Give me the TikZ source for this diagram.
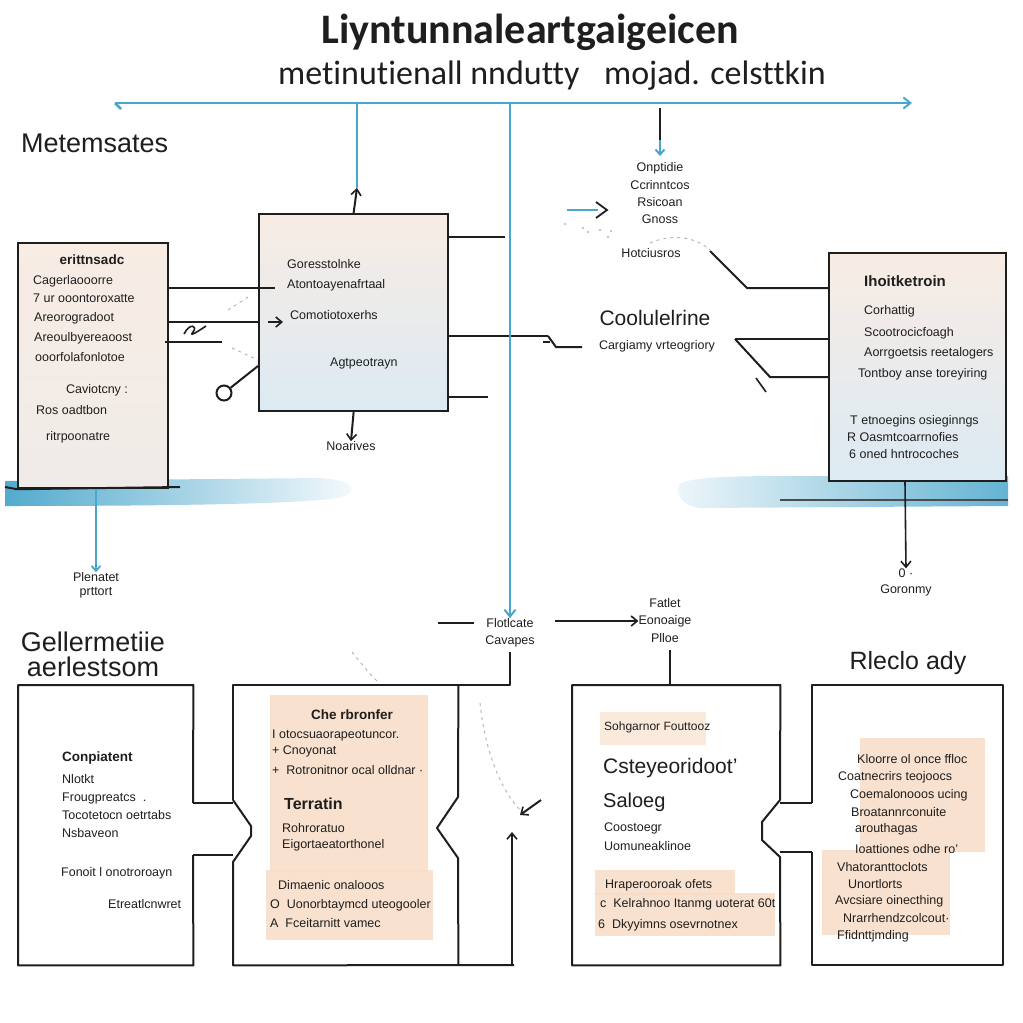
\documentclass[tikz,border=0pt]{standalone}
\usepackage{fontspec}
\setmainfont{Liberation Sans}
\newfontfamily\titlefont[Ligatures=NoCommon]{Carlito}
\usetikzlibrary{arrows.meta}
\definecolor{wblue}{HTML}{4AA6CB}
\definecolor{peach}{HTML}{F7DCC6}
\definecolor{boxpeach}{HTML}{F8ECE4}
\definecolor{boxblue}{HTML}{DCEAF3}
\definecolor{ink}{HTML}{1E1E1E}
\begin{document}
\begin{tikzpicture}[x=1pt,y=-1pt,
  ln/.style={draw=ink,line width=2pt},
  bl/.style={draw=wblue,line width=2.6pt},
  tip/.style={-{Straight Barb[length=6pt,width=10pt,line width=1.6pt]}},
  bbox/.style={draw=ink,line width=2.2pt,anchor=north west,inner sep=0pt},
  tx/.style={font=\fontsize{12.5}{14}\selectfont,inner sep=0pt,text=ink},
  tw/.style={tx,anchor=west},
  tb/.style={tx,font=\fontsize{13.5}{15}\selectfont\bfseries},
  big/.style={inner sep=0pt,text=ink,font=\fontsize{27}{30}\selectfont},
  gd/.style={draw=gray!60,line width=0.9pt,dash pattern=on 3pt off 4pt},
  patch/.style={fill=peach,draw=none,opacity=0.85}
]
\useasboundingbox[fill=white] (0,0) rectangle (1023,1023);

% title
\node[inner sep=0pt,font=\titlefont\fontsize{42}{46}\selectfont\bfseries,text=ink] (title) at (530,32) {Liyntunnalеartgaigeicen};
\node[inner sep=0pt,font=\titlefont\fontsize{34}{38}\selectfont,text=ink] (subt) at (552,76) {metinutienall nndutty\enspace\ mojad. celsttkin};

% blue main bus
\coordinate (busL) at (115,103);
\coordinate (busR) at (912,103);
\draw[bl,-{Straight Barb[length=7pt,width=11pt,line width=2pt]}] (busL) -- (busR);
\draw[bl] (busL) -- ++(6,6);

\node[big,anchor=west] (meta) at (21,143) {Metemsates};

% watercolor strips
\shade[left color=wblue!95,right color=wblue!5] (5,481) -- (320,478) .. controls (350,480) and (360,488) .. (345,496) .. controls (330,503) and (200,506) .. (5,506) -- cycle;
\shade[left color=wblue!10,right color=wblue!85] (680,484) .. controls (690,476) and (750,476) .. (800,476) -- (1008,476) -- (1008,506) -- (700,508) .. controls (680,505) and (675,492) .. (680,484) -- cycle;

% upper-left box
\node[bbox,shade,top color=boxpeach,bottom color=boxpeach!70!boxblue,minimum width=150pt,minimum height=245pt] (lb) at (17,242) {};
\draw[ln] (5,487) -- (lb.south west);
\draw[ln] (lb.south west) -- (180,487);
\node[tb] (lb0) at (92,260) {erittnsadc};
\node[tw] (lb1) at (33,281) {Cagerlaooorre};
\node[tw] (lb2) at (33,298) {7 ur ooontoroxatte};
\node[tw] (lb3) at (34,318) {Areorogradoot};
\node[tw] (lb4) at (34,338) {Areoulbyereaoost};
\node[tw] (lb5) at (35,357) {ooorfolafonlotoe};
\node[tx] (lb6) at (97,390) {Caviotcny :};
\node[tw] (lb7) at (36,410) {Ros oadtbon};
\node[tw] (lb8) at (46,437) {ritrpoonatre};

% middle box
\node[bbox,shade,top color=boxpeach,bottom color=boxblue,minimum width=189pt,minimum height=197pt] (mb) at (258,213) {};
\node[tw] (mb1) at (287,264) {Goresstolnke};
\node[tw] (mb2) at (287,285) {Atontoayenafrtaal};
\node[tw] (mb3) at (290,315) {Comotiotoxerhs};
\node[tw] (mb4) at (330,363) {Agtpeotrayn};

% links left box -> middle box
\draw[ln] (lb.east |- 0,288) -- (275,288);
\draw[ln] (lb.east |- 0,322) -- (mb.west |- 0,322);
\draw[ln,tip] (268,322) -- (283,322);
\draw[ln] (165,342) -- (222,342);
\draw[ln,line width=1.6pt] (184,334) .. controls (190,322) and (198,326) .. (193,332) .. controls (188,338) and (200,330) .. (206,326);
\node[circle,draw=ink,line width=2pt,minimum size=15pt,inner sep=0pt] (circ) at (224,393) {};
\draw[ln] (circ) -- (mb.west |- 0,366);
\draw[gd] (228,310) -- (248,297);
\draw[gd] (232,348) -- (258,360);

% up arrow from middle box to bus
\coordinate (mtop) at (357,188);
\draw[bl] (busL -| mtop) -- (mtop);
\draw[ln,tip] (mb.north |- 0,213) -- (mtop);

% middle box right stubs
\draw[ln] (mb.east |- 0,237) -- (505,237);
\draw[ln] (mb.east |- 0,336) -- (548,336);
\draw[ln] (mb.east |- 0,397) -- (488,397);

% below middle box
\node[tx] (noar) at (351,446) {Noarives};
\draw[ln,tip] (mb.south) -- (noar.north);

% central blue arrow
\node[tx] (flot) at (510,623) {Flotlcate};
\node[tx] (cava) at (510,641) {Cavapes};
\draw[bl,-{Straight Barb[length=7pt,width=11pt,line width=2pt]}] (510,103) -- (flot.north);
\coordinate (dashL) at (438,623);
\draw[ln] (dashL) -- (474,623);
\node[tx] (fat1) at (665,603) {Fatlet};
\node[tx] (fat2) at (665,621) {Eonoaige};
\node[tx] (fat3) at (665,638) {Plloe};
\draw[ln,tip,line width=1.6pt] (555,621) -- (fat2.west);

% centre-right cluster
\coordinate (vtop) at (660,108);
\draw[ln,line width=1.6pt] (vtop) -- (660,145);
\draw[bl,-{Straight Barb[length=5pt,width=9pt,line width=2pt]}] (660,140) -- (660,156);
\node[tx] (op1) at (660,168) {Onptidie};
\node[tx] (op2) at (660,185) {Ccrinntcos};
\node[tx] (op3) at (660,202) {Rsicoan};
\node[tx] (op4) at (660,219) {Gnoss};
\node[tx] (hot) at (651,253) {Hotciusros};
\draw[bl,line width=2pt] (567,210) -- (598,210);
\draw[ln,line width=1.8pt] (596,202) -- (607,210) -- (596,218);
\foreach \p in {(565,224),(583,228),(588,232),(600,230),(608,237),(611,231)} \fill[gray!60] \p circle (1.1pt);
\draw[gd] (650,243) .. controls (670,234) and (695,236) .. (710,250);
\draw[ln] (710,251) -- (747,288) -- (840,288);

\node[tx,font=\fontsize{21}{24}\selectfont] (cool) at (655,318) {Coolulelrine};
\node[tx] (carg) at (657,346) {Cargiamy vrteogriory};
\draw[ln] (548,336) -- (556,347) -- (582,347);
\draw[ln,line width=1.4pt] (543,342) -- (550,342);
\draw[ln] (735,339) -- (840,339);
\draw[ln] (735,339) -- (770,377) -- (828,377);
\draw[ln,line width=1.6pt] (756,378) -- (766,392);

% upper-right box
\node[bbox,shade,top color=boxpeach,bottom color=boxblue,minimum width=177pt,minimum height=228pt] (rb) at (828,252) {};
\node[tw,font=\fontsize{15}{17}\selectfont\bfseries] (rb0) at (864,281) {Ihoitketroin};
\node[tw] (rb1) at (864,311) {Corhattig};
\node[tw] (rb2) at (864,333) {Scootrocicfoagh};
\node[tw] (rb3) at (864,353) {Aorrgoetsis reetalogers};
\node[tw] (rb4) at (858,374) {Tontboy anse toreyiring};
\node[tw] (rb5) at (850,421) {T etnoegins osieginngs};
\node[tw] (rb6) at (847,437) {R Oasmtcoarrnofies};
\node[tw] (rb7) at (849,454) {6 oned hntrocoches};
\draw[draw=ink!80,line width=1.4pt] (780,500) -- (1008,500);

% arrows down from upper boxes
\node[tx] (plen1) at (96,577) {Plenatet};
\node[tx] (plen2) at (96,593) {prttort};
\draw[bl,line width=2pt,-{Straight Barb[length=5pt,width=9pt,line width=1.8pt]}] (lb.south -| 96,0) -- (plen1.north);
\node[tx] (zero) at (906,573) {0 ·};
\node[tx] (goro) at (906,590) {Goronmy};
\draw[ln,line width=1.6pt,tip] (rb.south -| 905,0) -- (zero.north);

\node[big] (gel1) at (93,642) {Gellermetiie};
\node[big] (gel2) at (93,667) {aerlestsom};
\node[big,font=\fontsize{25}{28}\selectfont] (rlec) at (908,663) {Rleclo ady};
\draw[gd] (352,652) .. controls (360,662) and (368,672) .. (378,682);

% ---------- bottom boxes ----------
\node[draw=none,anchor=north west,minimum width=175pt,minimum height=280pt,inner sep=0pt] (b1) at (18,685) {};
\node[draw=none,anchor=north west,minimum width=225pt,minimum height=280pt,inner sep=0pt] (b2) at (233,685) {};
\node[draw=none,anchor=north west,minimum width=208pt,minimum height=280pt,inner sep=0pt] (b3) at (572,685) {};
\node[draw=none,anchor=north west,minimum width=191pt,minimum height=280pt,inner sep=0pt] (b4) at (812,685) {};

% patches
\fill[patch] (270,695) rectangle (428,872);
\fill[patch] (266,870) rectangle (433,940);
\fill[patch,opacity=0.6] (600,712) rectangle (706,745);
\fill[patch] (595,870) rectangle (735,895);
\fill[patch] (595,893) rectangle (775,936);
\fill[patch] (860,738) rectangle (985,852);
\fill[patch] (822,850) rectangle (950,935);

% outlines
\draw[ln,line join=round] (193,803) -- (b1.north east) -- (b1.north west) -- (b1.south west) -- (b1.south east) -- (193,855);
\draw[ln] (193,803) -- (233,803);
\draw[ln] (193,855) -- (233,855);
\draw[ln,line join=round] (233,800) -- (b2.north west) -- (510,685) -- (510,652);
\draw[ln,line join=round] (233,800) -- (251,826) -- (251,836) -- (233,862) -- (b2.south west) -- (514,965);
\draw[ln,line join=round] (b2.north east) -- (458,797) -- (437,828) -- (458,858) -- (b2.south east);
\draw[ln,line join=round] (780,800) -- (b3.north east) -- (b3.north west) -- (b3.south west) -- (b3.south east) -- (780,857) -- (762,840) -- (762,822) -- (780,800);
\draw[ln] (670,650) -- (670,685);
\draw[ln] (780,803) -- (812,803);
\draw[ln] (780,852) -- (812,852);
\draw[ln,line join=round] (812,803) -- (b4.north west) -- (b4.north east) -- (b4.south east) -- (b4.south west) -- (812,852);

% dashed curve and arrows between box2 and box3
\draw[gd] (480,703) .. controls (485,750) and (500,790) .. (522,812);
\draw[ln,tip] (541,800) -- (520,815);
\coordinate (upbase) at (512,965);
\draw[ln,tip] (upbase) -- (512,832);

% box1 text
\node[tw,font=\fontsize{13.5}{15}\selectfont\bfseries] (c1) at (62,758) {Conpiatent};
\node[tw] (c2) at (62,779) {Nlotkt};
\node[tw] (c3) at (62,798) {Frougpreatcs \ .};
\node[tw] (c4) at (62,815) {Tocotetocn oetrtabs};
\node[tw] (c5) at (62,833) {Nsbaveon};
\node[tw] (c6) at (61,873) {Fonoit l onotroroayn};
\node[tw] (c7) at (108,904) {Etreatlcnwret};

% box2 text
\node[tb] (d1) at (352,715) {Che rbronfer};
\node[tw] (d2) at (272,735) {I otocsuaorapeotuncor.};
\node[tw] (d3) at (272,751) {+ Cnoyonat};
\node[tw] (d4) at (272,770) {+ \ Rotronitnor ocal olldnar ·};
\node[tw,font=\fontsize{16}{18}\selectfont\bfseries] (d5) at (284,804) {Terratin};
\node[tw] (d6) at (282,828) {Rohroratuo};
\node[tw] (d7) at (282,845) {Eigortaeatorthonel};
\node[tw] (d8) at (278,885) {Dimaenic onalooos};
\node[tw] (d9) at (270,905) {O \ Uonorbtaymcd uteogooler};
\node[tw] (d10) at (270,923) {A \ Fceitarnitt vamec};

% box3 text
\node[tw,font=\fontsize{12}{14}\selectfont] (e1) at (604,727) {Sohgarnor Fouttooz};
\node[tw,font=\fontsize{21}{24}\selectfont] (e2) at (603,768) {Csteyeoridoot'};
\node[tw,font=\fontsize{20}{23}\selectfont] (e3) at (603,802) {Saloeg};
\node[tw] (e4) at (604,828) {Coostoegr};
\node[tw] (e5) at (604,846) {Uomuneaklinoe};
\node[tw] (e6) at (605,885) {Hraperooroak ofets};
\node[tw] (e7) at (600,904) {c \ Kelrahnoo Itanmg uoterat 60t};
\node[tw] (e8) at (598,925) {6 \ Dkyyimns osevrnotnex};

% box4 text
\node[tw] (f1) at (857,759) {Kloorre ol once ffloc};
\node[tw] (f2) at (838,777) {Coatnecrirs teojoocs};
\node[tw] (f3) at (850,795) {Coemalonooos ucing};
\node[tw] (f4) at (851,812) {Broatannrconuite};
\node[tw] (f5) at (855,829) {arouthagas};
\node[tw] (f6) at (855,849) {Ioattiones odhe ro'};
\node[tw] (f7) at (837,867) {Vhatoranttoclots};
\node[tw] (f8) at (848,884) {Unortlorts};
\node[tw] (f9) at (835,901) {Avcsiare oinecthing};
\node[tw] (f10) at (843,918) {Nrarrhendzcolcout·};
\node[tw] (f11) at (837,936) {Ffidnttjmding};
\end{tikzpicture}
\end{document}
